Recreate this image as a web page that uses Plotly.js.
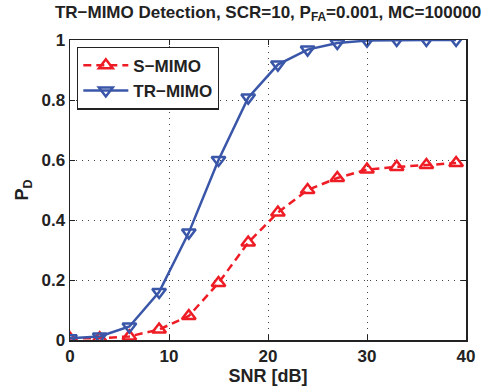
<!DOCTYPE html>
<html><head><meta charset="utf-8">
<script src="https://cdn.plot.ly/plotly-3.0.1.min.js"></script>
<style>html,body{margin:0;padding:0;background:#fff}#c{width:488px;height:389px}</style>
</head><body><div id="c"></div>
<script>
const snr = [0,3,6,9,12,15,18,21,24,27,30,33,36,39];
const sMimo = [0.005,0.006,0.012,0.035,0.08,0.19,0.325,0.425,0.50,0.54,0.568,0.577,0.583,0.59];
const trMimo = [0.006,0.012,0.045,0.16,0.358,0.60,0.808,0.918,0.968,0.99,0.998,1.0,1.0,1.0];
const xTicks = [0,10,20,30,40];
const yTicks = [0,0.2,0.4,0.6,0.8,1];
const yTickText = ['0','0.2','0.4','0.6','0.8','1'];
const red = '#ee1c25', blue = '#3a56a8';
const font = 'Liberation Sans, Arial, sans-serif';
const traces = [
 {x: snr, y: sMimo, name: 'S\u2212MIMO', mode: 'lines+markers',
  line: {color: red, width: 2.5, dash: '8px,5px'},
  marker: {symbol: 'triangle-up-open', size: 12, color: red, line: {width: 2.5, color: red}}},
 {x: snr, y: trMimo, name: 'TR\u2212MIMO', mode: 'lines+markers',
  line: {color: blue, width: 2.5},
  marker: {symbol: 'triangle-down-open', size: 12, color: blue, line: {width: 2.5, color: blue}}}
];
const axisCommon = {
  showline: true, linecolor: '#222', linewidth: 1.5, mirror: 'ticks',
  ticks: 'inside', ticklen: 5, tickcolor: '#222',
  showgrid: true, gridcolor: '#444', griddash: '1px,5px', gridwidth: 1,
  zeroline: false, tickfont: {family: font, size: 17, color: '#222', weight: 'bold'}
};
const layout = {
  width: 488, height: 389,
  margin: {l: 70, r: 22, t: 40, b: 49},
  paper_bgcolor: '#fff', plot_bgcolor: '#fff',
  title: {text: 'TR\u2212MIMO Detection, SCR=10, P<sub>FA</sub>=0.001, MC=100000',
    font: {family: font, size: 17, color: '#222', weight: 'bold'},
    x: 0.5, xref: 'paper', y: 0.985, yref: 'container', yanchor: 'top'},
  xaxis: Object.assign({}, axisCommon, {range: [0, 40], tickvals: xTicks,
    title: {text: 'SNR [dB]', font: {family: font, size: 18, color: '#222', weight: 'bold'}, standoff: 0}}),
  yaxis: Object.assign({}, axisCommon, {range: [0, 1], tickvals: yTicks, ticktext: yTickText,
    title: {text: 'P<sub>D</sub>', font: {family: font, size: 18, color: '#222', weight: 'bold'}, standoff: 8}}),
  legend: {x: 0.018, y: 0.978, xanchor: 'left', yanchor: 'top', bgcolor: '#fff',
    bordercolor: '#222', borderwidth: 1.2,
    font: {family: font, size: 17, color: '#222', weight: 'bold'}, tracegroupgap: 0, itemwidth: 45},
  showlegend: true
};
Plotly.newPlot('c', traces, layout, {displayModeBar: false, staticPlot: true});
</script></body></html>
